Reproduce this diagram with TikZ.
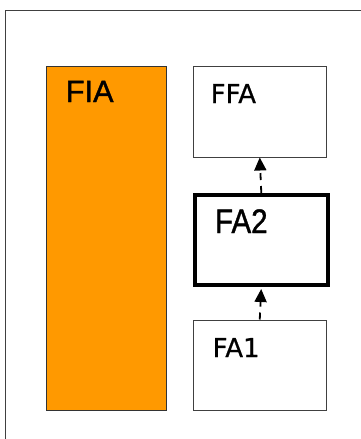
\documentclass[tikz,border=0pt]{standalone}
\usepackage{fontspec}
\setmainfont{DejaVu Sans}
\newfontfamily\arialf[FakeBold=1.2]{Liberation Sans}
\newfontfamily\dejaf[FakeBold=0.6]{DejaVu Sans}
\usetikzlibrary{arrows.meta}
\begin{document}
\begin{tikzpicture}[x=1pt,y=-1pt,
  thinbox/.style={draw=black!75, line width=1pt, inner sep=0pt, anchor=north west},
  orangebox/.style={thinbox, draw=black!80, fill=orangefill},
  thickbox/.style={draw=black, line width=3.8pt, inner sep=0pt, anchor=north west},
  lbl/.style={inner sep=0pt, anchor=base west},
  dasharrow/.style={draw=black, line width=1.8pt, dash pattern=on 7pt off 6pt,
    -{Triangle[length=13pt,width=12pt]}},
]
\definecolor{orangefill}{HTML}{FF9900}
\useasboundingbox (0,0) rectangle (361,439);
\begin{scope}
  \clip (0,0) rectangle (361,439);
  \draw[draw=black!75, line width=1pt] (5,10.5) rectangle (375,450);
\end{scope}
\node[orangebox, minimum width=120pt, minimum height=344.5pt] (fia) at (46,65.5) {};
\node[thinbox, minimum width=133.5pt, minimum height=91pt] (ffa) at (192.5,65.5) {};
\node[thickbox, minimum width=132.8pt, minimum height=90.3pt] (fa2) at (193,193) {};
\node[thinbox, minimum width=133.5pt, minimum height=90.5pt] (fa1) at (192.5,319.5) {};
\node[lbl, font=\arialf\fontsize{30.7}{36}\selectfont] (fiat) at (65.6,102) {FIA};
\node[lbl, font=\dejaf\fontsize{26}{31}\selectfont] (ffat) at (210.5,103) {FFA};
\node[lbl, font=\arialf\fontsize{34}{40}\selectfont] (fa2t) at (214.8,233) {\scalebox{0.87}[1]{FA2}};
\node[lbl, font=\dejaf\fontsize{26}{31}\selectfont] (fa1t) at (212.5,357) {FA1};
\draw[dasharrow] (fa2.north) -- (ffa.south);
\draw[dasharrow, shorten >=1.9pt] (fa1.north) -- (fa2.south);
\end{tikzpicture}
\end{document}
